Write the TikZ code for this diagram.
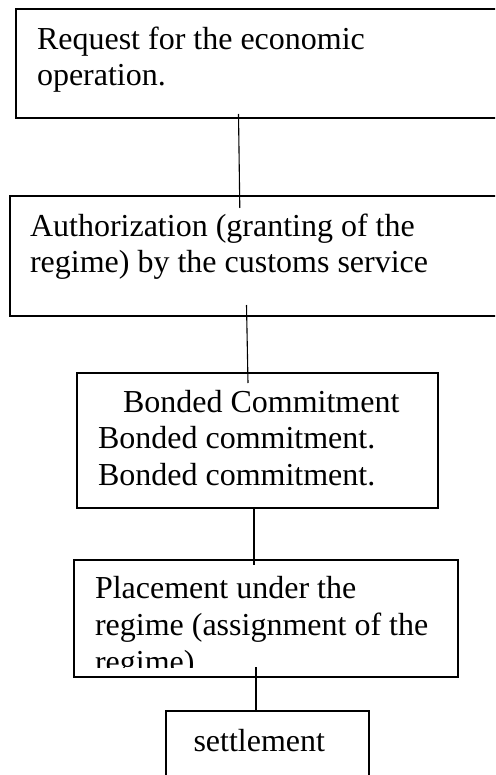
\documentclass[tikz,border=0pt]{standalone}
\usepackage{fontspec}
\setmainfont{Liberation Serif}
\begin{document}
\begin{tikzpicture}[x=1pt,y=-1pt,
  box/.style={draw=black, line width=1.1pt, inner sep=0pt, outer sep=0pt},
  txt/.style={inner sep=0pt, outer sep=0pt, anchor=base west, font=\fontsize{32}{36.5}\selectfont},
  link/.style={draw=black, line width=1.1pt}]
\clip (0,0) rectangle (495,775);
\fill[white] (0,0) rectangle (495,775);

% boxes
\node[box, minimum width=489pt, minimum height=109pt] (b1) at (260.5,63.5) {};
\node[box, minimum width=495pt, minimum height=120pt] (b2) at (257.5,256) {};
\node[box, minimum width=361pt, minimum height=135pt] (b3) at (257.5,440.5) {};
\node[box, minimum width=384pt, minimum height=117pt] (b4) at (266,618.5) {};
\node[box, minimum width=203pt, minimum height=100pt] (b5) at (267.5,761) {};

% texts
\node[txt] (t1a) at (37,49.5) {Request for the economic};
\node[txt] (t1b) at (37,86) {operation.};
\node[txt] (t2a) at (30,237) {Authorization (granting of the};
\node[txt] (t2b) at (30,272.5) {regime) by the customs service};
\node[txt] (t3a) at (123,412) {Bonded Commitment};
\node[txt] (t3b) at (98,448.3) {Bonded commitment.};
\node[txt] (t3c) at (98,485) {Bonded commitment.};
\node[txt] (t4a) at (95,598) {Placement under the};
\node[txt] (t4b) at (95,635) {regime (assignment of the};
\begin{scope}
  \clip (80,640) rectangle (450,667);
  \node[txt] (t4c) at (95,672) {regime)};
\end{scope}
\node[txt] (t5) at (193.5,751) {settlement};

% connector ends
\coordinate (c1s) at (238.5,114);
\coordinate (c1e) at (239.8,208);
\coordinate (c2s) at (246.5,305);
\coordinate (c2e) at (248,383);
\coordinate (c3s) at (254,508);
\coordinate (c3e) at (254,565);
\coordinate (c4s) at (256,667);
\coordinate (c4e) at (256,711);

\draw[link] (c1s) -- (c1e);
\draw[link] (c2s) -- (c2e);
\draw[link] (c3s) -- (c3e);
\draw[link] (c4s) -- (c4e);
\end{tikzpicture}
\end{document}
